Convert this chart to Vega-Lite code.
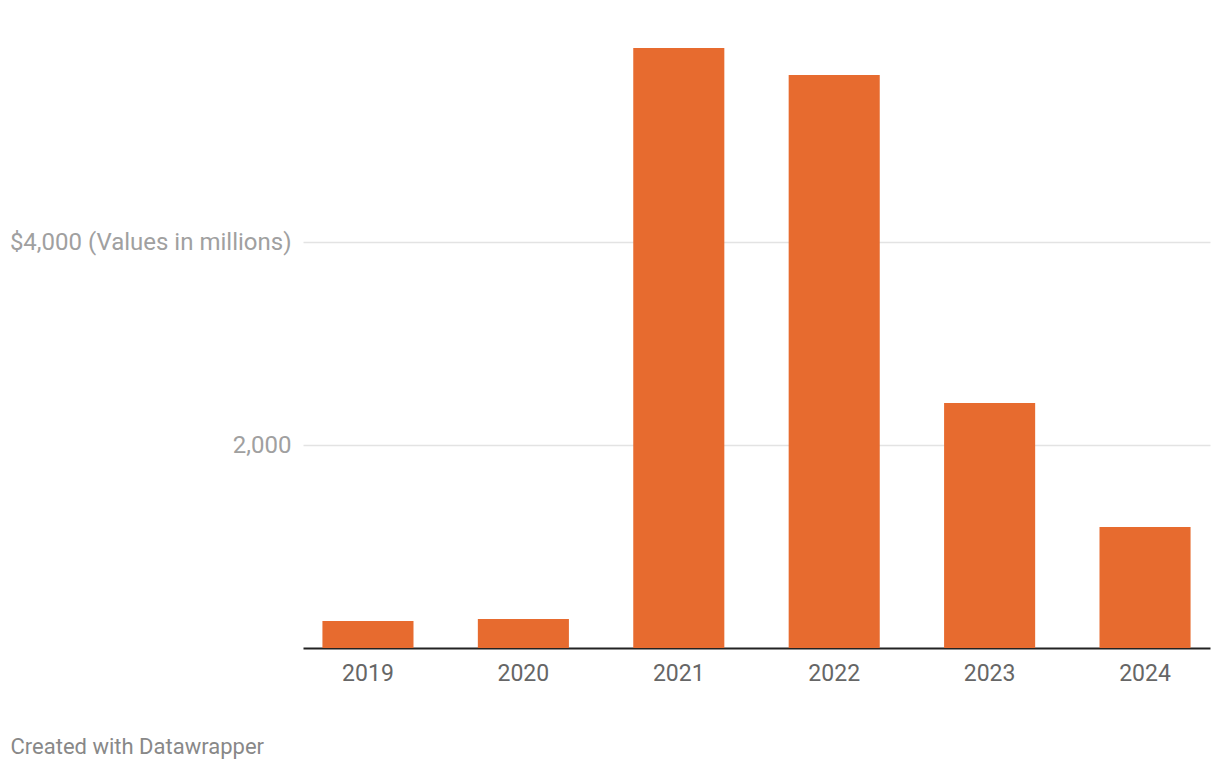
{
  "$schema": "https://vega.github.io/schema/vega-lite/v6.json",
  "width": 907,
  "height": 609,
  "autosize": "none",
  "padding": {"left": 303, "top": 39, "right": 10, "bottom": 122},
  "background": "white",
  "config": {"view": {"stroke": null}, "font": "Roboto"},
  "data": {"values": [
    {"year": "2019", "value": 266},
    {"year": "2020", "value": 286},
    {"year": "2021", "value": 5911},
    {"year": "2022", "value": 5645},
    {"year": "2023", "value": 2414},
    {"year": "2024", "value": 1192}
  ]},
  "mark": {"type": "bar", "color": "#e76b2f"},
  "encoding": {
    "x": {
      "field": "year", "type": "ordinal",
      "scale": {"paddingInner": 0.414, "paddingOuter": 0.125},
      "axis": {
        "labelAngle": 0, "labelFont": "Roboto", "labelFontSize": 23, "labelColor": "#666666",
        "labelPadding": 14, "ticks": false, "domainColor": "#222222", "domainWidth": 2,
        "title": "Created with Datawrapper", "titleFont": "Roboto", "titleFontSize": 22,
        "titleFontWeight": "normal", "titleColor": "#888888", "titleAnchor": "start",
        "titleAlign": "left", "titleX": -293, "titleY": 105, "titleBaseline": "alphabetic"
      }
    },
    "y": {
      "field": "value", "type": "quantitative",
      "scale": {"domain": [0, 6000], "nice": false},
      "axis": {
        "values": [2000, 4000], "title": null, "domain": false, "ticks": false,
        "labelPadding": 12, "labelFont": "Roboto", "labelFontSize": 24, "labelColor": "#a0a0a0",
        "labelLimit": 0,
        "gridColor": "#e3e3e3", "gridWidth": 1.5,
        "labelExpr": "datum.value == 4000 ? '$4,000 (Values in millions)' : format(datum.value, ',')"
      }
    }
  }
}
